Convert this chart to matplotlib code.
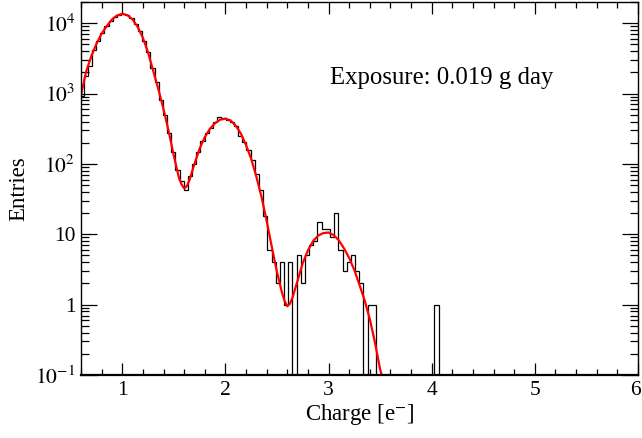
import numpy as np
import matplotlib
matplotlib.use("Agg")
import matplotlib.pyplot as plt
import matplotlib.transforms as mtransforms
from matplotlib.ticker import FixedLocator, FixedFormatter, MultipleLocator, LogLocator, NullFormatter

# ---------------- data ----------------
bin_lo = 0.584
bin_width = 0.0405
counts = [920, 1780, 2500, 4100, 5600, 7300, 9000, 10600, 12100, 13100,
          13500, 12900, 11700, 9600, 7700, 5500, 3900, 2300, 1450, 820,
          500, 275, 150, 82, 58, 43, 68, 100, 150, 210,
          275, 322, 390, 470, 455, 425, 400, 345, 250, 206,
          160, 115, 72, 43, 18, 6, 4, 2, 4, 1,
          4, 0, 5, 2, 5, 7, 8, 15, 12, 12,
          9, 20, 6, 3, 4, 5, 3, 2, 0, 1,
          1, 0, 0, 0, 0, 0, 0, 0, 0, 0,
          0, 0, 0, 0, 0, 1, 0]

fit_x = [0.60, 0.65, 0.70, 0.75, 0.80, 0.85, 0.90, 0.95, 1.00, 1.05,
         1.10, 1.15, 1.20, 1.25, 1.30, 1.35, 1.40, 1.45, 1.50, 1.55,
         1.575, 1.60, 1.625, 1.65, 1.70, 1.75, 1.80, 1.85, 1.90, 1.95,
         2.00, 2.05, 2.10, 2.15, 2.20, 2.25, 2.30, 2.35, 2.40, 2.45,
         2.50, 2.55, 2.575, 2.60, 2.625, 2.65, 2.70, 2.75, 2.80, 2.85,
         2.90, 2.95, 3.00, 3.05, 3.10, 3.15, 3.20, 3.25, 3.30, 3.35,
         3.40, 3.45, 3.50, 3.52]
fit_y = [950, 2050, 3400, 5100, 7100, 9100, 11300, 12900, 13600, 13000,
         11300, 8800, 6200, 3850, 2100, 1150, 600, 290, 130, 63,
         51, 45, 48, 58, 100, 165, 240, 315, 380, 425,
         440, 415, 350, 270, 185, 118, 66, 34, 15.5, 6.6,
         2.9, 1.45, 1.12, 0.95, 1.03, 1.25, 2.2, 3.9, 5.9, 8.0,
         9.6, 10.4, 10.6, 9.7, 8.2, 6.3, 4.6, 3.1, 1.9, 1.15,
         0.62, 0.29, 0.12, 0.095]

x_ticks = [1, 2, 3, 4, 5, 6]
x_ticklabels = ["1", "2", "3", "4", "5", "6"]
y_ticks = [0.1, 1, 10, 100, 1000, 10000]
y_ticklabels = [r"$10^{-1}$", "1", "10", r"$10^{2}$", r"$10^{3}$", r"$10^{4}$"]
x_label = r"Charge [e$^{-}$]"
y_label = "Entries"
annotation = "Exposure: 0.019 g day"

# ---------------- figure ----------------
plt.rcParams['font.family'] = ['Liberation Serif', 'DejaVu Serif']
plt.rcParams['mathtext.fontset'] = 'stix'

fig = plt.figure(figsize=(6.42, 4.38), dpi=100)
ax = fig.add_axes([81/642, 1 - 375/438, (638-81)/642, (375-2)/438])

edges = bin_lo + bin_width * np.arange(len(counts) + 1)
vals = np.asarray(counts, dtype=float)
vals = np.where(vals > 0, vals, 1e-3)
ax.stairs(vals, edges, baseline=None, color='black', linewidth=0.9)

ax.plot(fit_x, fit_y, color='red', linewidth=1.6)

ax.set_yscale('log')
ax.set_xlim(0.6, 6.0)
ax.set_ylim(0.1, 2.0e4)

ax.xaxis.set_major_locator(FixedLocator(x_ticks))
ax.xaxis.set_major_formatter(FixedFormatter(x_ticklabels))
ax.xaxis.set_minor_locator(MultipleLocator(0.2))
ax.yaxis.set_major_locator(FixedLocator(y_ticks))
ax.yaxis.set_major_formatter(FixedFormatter(y_ticklabels))
ax.yaxis.set_minor_locator(LogLocator(base=10, subs=range(2, 10)))
ax.yaxis.set_minor_formatter(NullFormatter())

ax.tick_params(axis='both', which='both', direction='in', top=True, right=True,
               colors='black', labelsize=15.5)
ax.tick_params(axis='x', which='major', length=8.6, width=0.9, pad=4)
ax.tick_params(axis='x', which='minor', length=4.3, width=0.9)
ax.tick_params(axis='y', which='major', length=11.5, width=0.9, pad=4)
ax.tick_params(axis='y', which='minor', length=5.8, width=0.9)

for s in ['left', 'right', 'top']:
    ax.spines[s].set_linewidth(1.0)
ax.spines['bottom'].set_linewidth(1.6)

ax.set_xlabel(x_label, fontsize=16.5)
ax.set_ylabel(y_label, fontsize=16.5)
ax.xaxis.set_label_coords(0.5, -0.072)
ax.yaxis.set_label_coords(-0.093, 0.5)

ax.text(0.447, 0.797, annotation, transform=ax.transAxes, fontsize=17.8,
        ha='left', va='center')

# keep the last x tick label inside the canvas
fig.canvas.draw()
last = ax.get_xticklabels()[-1]
last.set_transform(last.get_transform() +
                   mtransforms.ScaledTranslation(-2.5 / 100, 0, fig.dpi_scale_trans))

fig.savefig('out.png', dpi=100)
